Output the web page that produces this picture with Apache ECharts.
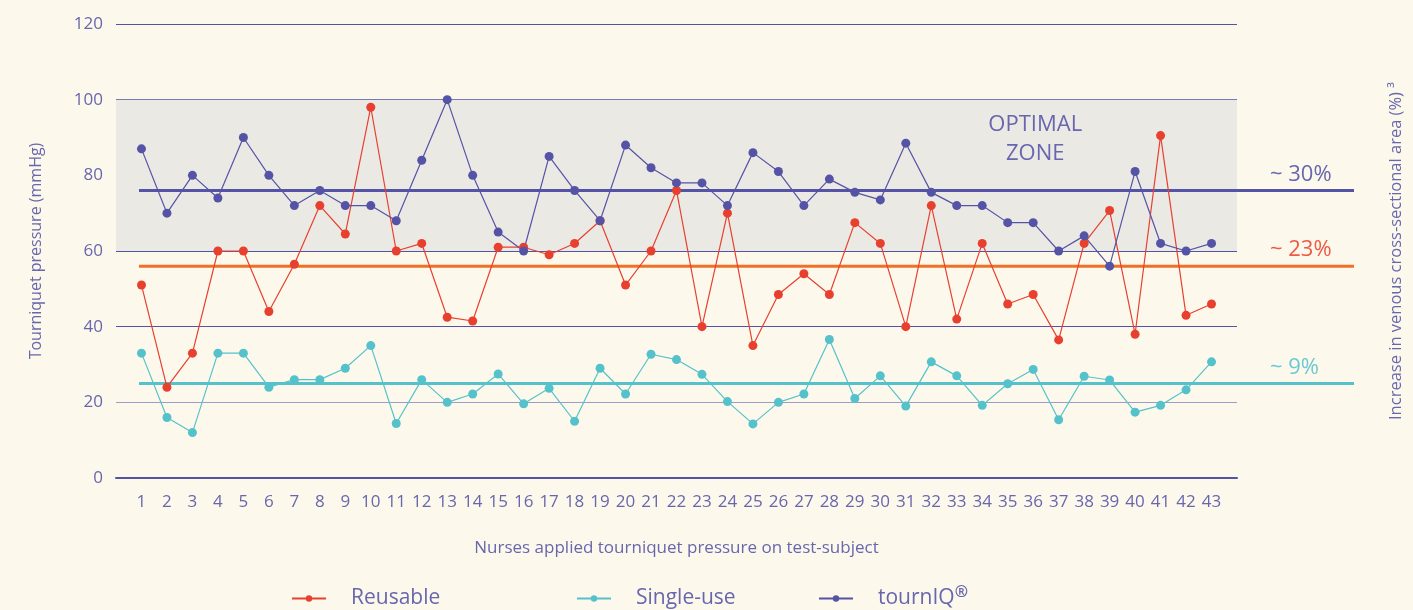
<!DOCTYPE html>
<html>
<head>
<meta charset="utf-8">
<script src="https://cdn.jsdelivr.net/npm/echarts@6/dist/echarts.min.js"></script>
<style>
  html, body { margin: 0; padding: 0; background: #fcf9ec; }
  #chart { width: 1413px; height: 610px; }
</style>
</head>
<body>
<div id="chart"></div>
<script>
// nurses 1..43
var nurses = [];
for (var n = 1; n <= 43; n++) nurses.push(n);

// tourniquet pressure (mmHg) applied per nurse
var reusable = [51, 24, 33, 60, 60, 44, 56.5, 72, 64.5, 98, 60, 62, 42.5, 41.5, 61, 61, 59, 62, 68, 51,
  60, 76, 40, 70, 35, 48.5, 54, 48.5, 67.5, 62, 40, 72, 42, 62, 46, 48.5, 36.5, 62, 70.7, 38, 90.5, 43, 46];
var singleUse = [33, 16, 12, 33, 33, 24, 26, 26, 29, 35, 14.4, 26, 20, 22.2, 27.5, 19.6, 23.7, 15, 29, 22.2,
  32.7, 31.3, 27.4, 20.2, 14.3, 20, 22.2, 36.6, 21, 27, 19, 30.7, 27, 19.2, 24.9, 28.7, 15.4, 26.9, 25.9, 17.4, 19.2, 23.3, 30.7];
var tourniq = [87, 70, 80, 74, 90, 80, 72, 76, 72, 72, 68, 84, 100, 80, 65, 60, 85, 76, 68, 88,
  82, 78, 78, 72, 86, 81, 72, 79, 75.5, 73.5, 88.5, 75.5, 72, 72, 67.5, 67.5, 60, 64, 56, 81, 62, 60, 62];

// average levels and increase in venous cross-sectional area
var avgLevels = [56, 25, 76];
var avgLabels = ['~ 23%', '~ 9%', '~ 30%'];
var optimalZone = [60, 100];
var yTicks = [0, 20, 40, 60, 80, 100, 120];

var names = ['Reusable', 'Single-use', 'tournIQ'];
var dotColors = ['#e8402f', '#55c2cb', '#5553a6'];
var avgColors = ['#f07026', '#55c2cb', '#5553a6'];
var labelColors = ['#ee5a45', '#6cc9d1', '#6866b0'];
var ink = '#6866ae';
var font = 'Open Sans';

function pairs(arr) {
  return arr.map(function (v, i) { return [nurses[i], v]; });
}

var chart = echarts.init(document.getElementById('chart'));

var series = [];
[reusable, singleUse, tourniq].forEach(function (arr, i) {
  series.push({
    name: names[i],
    type: 'line',
    xAxisIndex: 0, yAxisIndex: 0,
    data: pairs(arr),
    symbol: 'circle',
    symbolSize: 9,
    z: 5,
    itemStyle: { color: dotColors[i] },
    lineStyle: { color: dotColors[i], width: 1.2 },
    emphasis: { disabled: true },
    markArea: i === 0 ? {
      silent: true,
      itemStyle: { color: '#ebe9e4' },
      label: {
        show: true,
        position: ['82%', 11],
        align: 'center',
        verticalAlign: 'top',
        formatter: 'OPTIMAL\nZONE',
        color: ink,
        fontFamily: font,
        fontSize: 22,
        lineHeight: 29
      },
      data: [[{ yAxis: optimalZone[0] }, { yAxis: optimalZone[1] }]]
    } : undefined
  });
});

// average lines on an overlay grid that runs past the plot area
avgLevels.forEach(function (v, i) {
  series.push({
    type: 'line',
    xAxisIndex: 1, yAxisIndex: 1,
    data: [[0, v], [1, v]],
    symbol: 'none',
    silent: true,
    z: 4,
    lineStyle: { color: avgColors[i], width: 3 },
    endLabel: {
      show: true,
      formatter: avgLabels[i],
      color: labelColors[i],
      fontFamily: font,
      fontSize: 22,
      offset: [-92, -16]
    }
  });
});

var legendBase = {
  bottom: -4,
  itemWidth: 34,
  itemHeight: 8,
  textStyle: {
    color: ink, fontFamily: font, fontSize: 21, padding: [0, 0, 0, 20],
    rich: { sup: { color: ink, fontFamily: font, fontSize: 16, fontWeight: 'bold', verticalAlign: 'top', padding: [0, 0, 12, 0] } }
  },
  formatter: function (name) { return name === 'tournIQ' ? 'tournIQ{sup|®}' : name; },
  selectedMode: false
};

chart.setOption({
  backgroundColor: '#fcf9ec',
  animation: false,
  grid: [
    { left: 116, right: 176, top: 24, bottom: 132 },
    { left: 139, right: 45, top: 24, bottom: 132 }
  ],
  legend: [
    Object.assign({}, legendBase, { left: 286, data: [names[0]] }),
    Object.assign({}, legendBase, { left: 571, data: [names[1]] }),
    Object.assign({}, legendBase, { left: 813, data: [names[2]] })
  ],
  xAxis: [
    {
      type: 'value', gridIndex: 0, min: 0, max: 44, interval: 1,
      name: 'Nurses applied tourniquet pressure on test-subject',
      nameLocation: 'middle', nameGap: 62,
      nameTextStyle: { color: ink, fontFamily: font, fontSize: 17 },
      axisLine: { show: true, onZero: false, lineStyle: { color: '#5553a6', width: 2 } },
      axisTick: { show: false },
      splitLine: { show: false },
      axisLabel: {
        color: ink, fontFamily: font, fontSize: 17, margin: 16,
        formatter: function (v) { return v >= 1 && v <= 43 ? String(v) : ''; }
      }
    },
    { type: 'value', gridIndex: 1, min: 0, max: 1, show: false }
  ],
  yAxis: [
    {
      type: 'value', gridIndex: 0, min: 0, max: 120, interval: 20,
      name: 'Tourniquet pressure (mmHg)',
      nameLocation: 'middle', nameGap: 72,
      nameTextStyle: { color: ink, fontFamily: font, fontSize: 16 },
      axisLine: { show: false },
      axisTick: { show: false },
      axisLabel: {
        color: ink, fontFamily: font, fontSize: 17, margin: 13,
        formatter: function (v) { return yTicks.indexOf(v) >= 0 ? String(v) : ''; }
      },
      splitLine: {
        lineStyle: {
          color: ['#5553a6', '#9d9bc7', '#5553a6', '#5553a6', '#9d9bc7', '#5553a6', '#5553a6'],
          width: 1.2
        }
      }
    },
    {
      type: 'value', gridIndex: 1, min: 0, max: 120, show: true,
      position: 'right',
      name: 'Increase in venous cross-sectional area (%) ³',
      nameLocation: 'middle', nameGap: 34, nameRotate: 90,
      nameTextStyle: { color: ink, fontFamily: font, fontSize: 16.5 },
      axisLine: { show: false }, axisTick: { show: false },
      axisLabel: { show: false }, splitLine: { show: false }
    }
  ],
  series: series
});
</script>
</body>
</html>
